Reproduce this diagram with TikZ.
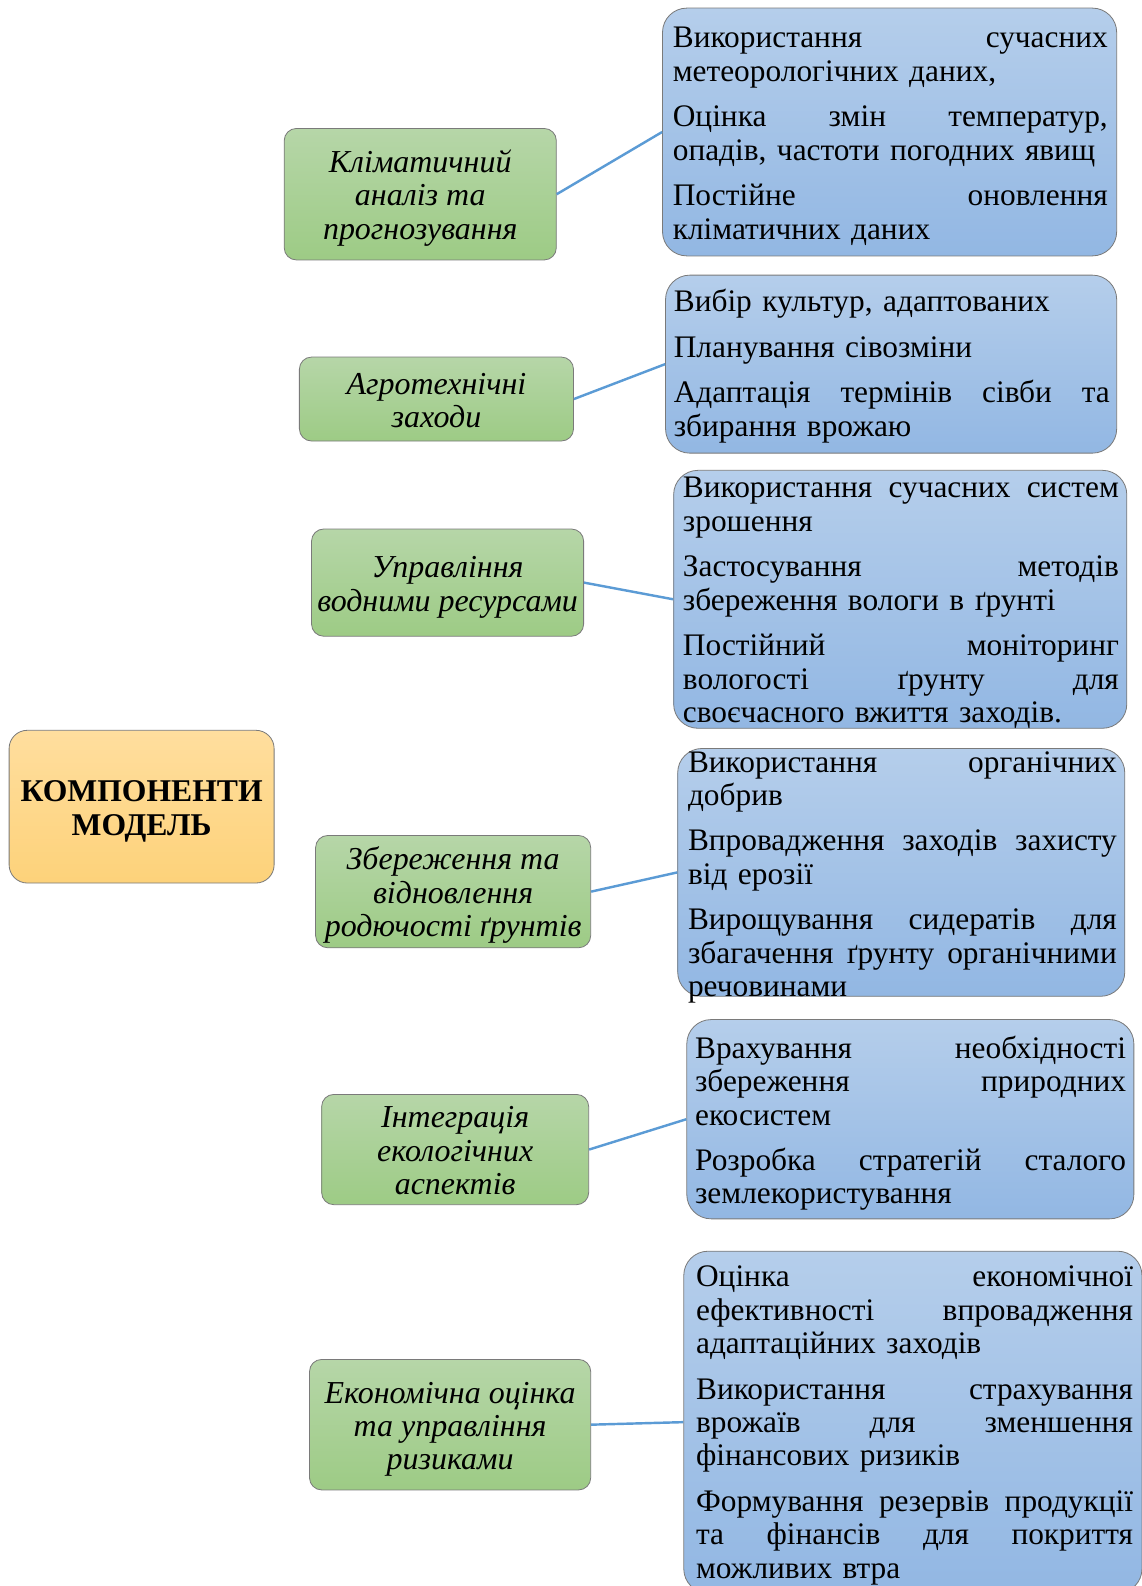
\documentclass[tikz,border=0pt]{standalone}
\usepackage{fontspec}
\setmainfont{Liberation Serif}
\usetikzlibrary{backgrounds}
\setlength{\parindent}{0pt}
\definecolor{gtop}{HTML}{B6D6A8}
\definecolor{gbot}{HTML}{9DCB85}
\definecolor{btop}{HTML}{B5CEEB}
\definecolor{bbot}{HTML}{92B7E3}
\definecolor{otop}{HTML}{FFDE9E}
\definecolor{obot}{HTML}{FDD27A}
\definecolor{boxborder}{HTML}{7A7A7A}
\definecolor{linegreen}{HTML}{70AD47}
\definecolor{lineblue}{HTML}{5B9BD5}
\newlength\tw
\newcommand\jl[1]{\makebox[\tw][s]{\spaceskip=0pt\relax\xspaceskip=0pt\relax #1}}
\newcommand\tstrut{\rule{0pt}{33.1pt}}
\newcommand\bodyfont{\fontsize{31}{33}\selectfont}
\newcommand\itfont{\fontsize{31.6}{33}\selectfont\itshape}
\newcommand\bffont{\fontsize{31.3}{33}\selectfont\bfseries}
\tikzset{
  greenline/.style={draw=linegreen, line width=2.2pt},
  blueline/.style={draw=lineblue, line width=2.4pt},
  obox/.style={rounded corners=18pt, draw=boxborder, line width=0.8pt, top color=otop, bottom color=obot, align=center, inner sep=0pt, font=\bffont},
  gbox/.style={rounded corners=12pt, draw=boxborder, line width=0.8pt, top color=gtop, bottom color=gbot, align=center, inner sep=0pt, font=\itfont},
  bbox/.style={rounded corners=24pt, draw=boxborder, line width=0.8pt, top color=btop, bottom color=bbot, inner sep=0pt},
  btext/.style={anchor=north west, inner sep=0pt, align=left, font=\bodyfont},
}
\begin{document}
\begin{tikzpicture}[x=1pt,y=-1pt]
\clip (0,0) rectangle (1129,1568);
\fill[white] (0,0) rectangle (1129,1568);
% centre
\node[obox, minimum width=262pt, minimum height=151pt] (c) at (140,797.5) {\tstrut КОМПОНЕНТИ\\МОДЕЛЬ\strut};
% green boxes
\node[gbox, minimum width=269pt, minimum height=130pt] (g1) at (415.5,192) {\tstrut Кліматичний\\аналіз та\\прогнозування\strut};
\node[gbox, minimum width=271pt, minimum height=83pt] (g2) at (431.5,394.5) {\tstrut Агротехнічні\\заходи\strut};
\node[gbox, minimum width=269pt, minimum height=106pt] (g3) at (442.5,576) {\tstrut Управління\\водними ресурсами\strut};
\node[gbox, minimum width=272pt, minimum height=111pt] (g4) at (448,881.5) {\tstrut Збереження та\\відновлення\\родючості ґрунтів\strut};
\node[gbox, minimum width=264pt, minimum height=109pt] (g5) at (450,1136.5) {\tstrut Інтеграція\\екологічних\\аспектів\strut};
\node[gbox, minimum width=278pt, minimum height=129pt] (g6) at (445,1408.5) {\tstrut Економічна оцінка\\та управління\\ризиками\strut};
% blue boxes
\node[bbox, minimum width=449pt, minimum height=245pt] (b1) at (879.5,130.5) {};
\node[bbox, minimum width=446pt, minimum height=176pt] (b2) at (881,360) {};
\node[bbox, minimum width=448pt, minimum height=255pt] (b3) at (890,592.5) {};
\node[bbox, minimum width=442pt, minimum height=245pt] (b4) at (891,862.5) {};
\node[bbox, minimum width=442pt, minimum height=197pt] (b5) at (900,1106.5) {};
\node[bbox, minimum width=453pt, minimum height=338pt] (b6) at (902.5,1406) {};
% blue texts
\setlength\tw{430pt}
\node[btext, text width=430pt] (t1) at (665,24) {\strut\jl{Використання сучасних}\\метеорологічних даних,\\[12pt]\jl{Оцінка змін температур,}\\опадів, частоти погодних явищ\\[12pt]\jl{Постійне оновлення}\\кліматичних даних};
\setlength\tw{431pt}
\node[btext, text width=431pt] (t2) at (666,285) {\strut Вибір культур, адаптованих\\[12pt]Планування сівозміни\\[12pt]\jl{Адаптація термінів сівби та}\\збирання врожаю};
\setlength\tw{431pt}
\node[btext, text width=431pt] (t3) at (675,469) {\strut\jl{Використання сучасних систем}\\зрошення\\[12pt]\jl{Застосування методів}\\збереження вологи в ґрунті\\[12pt]\jl{Постійний моніторинг}\\\jl{вологості ґрунту для}\\своєчасного вжиття заходів.};
\setlength\tw{424pt}
\node[btext, text width=424pt] (t4) at (680,740) {\strut\jl{Використання органічних}\\добрив\\[12pt]\jl{Впровадження заходів захисту}\\від ерозії\\[12pt]\jl{Вирощування сидератів для}\\\jl{збагачення ґрунту органічними}\\речовинами};
\setlength\tw{426pt}
\node[btext, text width=426pt] (t5) at (687,1023) {\strut\jl{Врахування необхідності}\\\jl{збереження природних}\\екосистем\\[12pt]\jl{Розробка стратегій сталого}\\землекористування};
\setlength\tw{432pt}
\node[btext, text width=432pt] (t6) at (688,1249) {\strut\jl{Оцінка економічної}\\\jl{ефективності впровадження}\\адаптаційних заходів\\[12pt]\jl{Використання страхування}\\\jl{врожаїв для зменшення}\\фінансових ризиків\\[12pt]\jl{Формування резервів продукції}\\\jl{та фінансів для покриття}\\можливих втра};
% connectors
\begin{scope}[on background layer]
\foreach \g in {g1,g2,g3,g4,g5,g6} \draw[greenline] (c.east) -- (\g.west);
\end{scope}
\draw[blueline] (g1.east) -- (b1.west);
\draw[blueline] (g2.east) -- (b2.west);
\draw[blueline] (g3.east) -- (b3.west);
\draw[blueline] (g4.east) -- (b4.west);
\draw[blueline] (g5.east) -- (b5.west);
\draw[blueline] (g6.east) -- (b6.west);
\end{tikzpicture}
\end{document}
